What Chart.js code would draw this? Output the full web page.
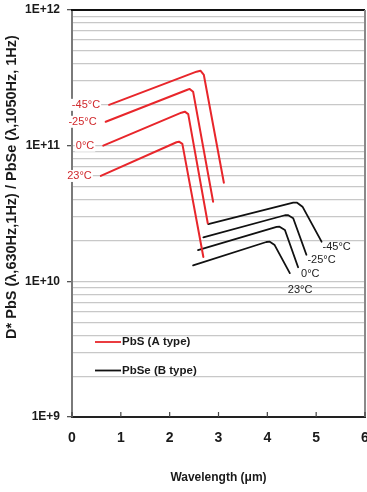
<!DOCTYPE html>
<html>
<head>
<meta charset="utf-8">
<script src="https://cdn.jsdelivr.net/npm/chart.js@4.4.0/dist/chart.umd.min.js"></script>
<style>
    html, body { margin: 0; padding: 0; background: #fff; }
    #wrap { width: 367px; height: 492px; }
</style>
</head>
<body>
<div id="wrap"><canvas id="myChart" width="367" height="492"></canvas></div>
<script>
// Temperatures, same order for both detector types
var temps = ['-45°C', '-25°C', '0°C', '23°C'];

// PbS (A type) curves, points are [wavelength (um), D*]
var pbsM45 = [[0.76, 2.0e11], [2.55, 3.51e11], [2.63, 3.57e11], [2.70, 3.32e11], [3.11, 5.33e10]];
var pbsM25 = [[0.69, 1.50e11], [2.35, 2.57e11], [2.41, 2.62e11], [2.48, 2.50e11], [2.89, 3.86e10]];
var pbs0 = [[0.64, 1.0e11], [2.24, 1.75e11], [2.31, 1.78e11], [2.38, 1.71e11], [2.78, 2.68e10]];
var pbs23 = [[0.59, 5.98e10], [2.14, 1.06e11], [2.19, 1.07e11], [2.26, 1.03e11], [2.69, 1.51e10]];

// PbSe (B type) curves
var pbseM45 = [[2.79, 2.64e10], [4.53, 3.80e10], [4.61, 3.80e10], [4.72, 3.55e10], [5.11, 1.96e10]];
var pbseM25 = [[2.69, 2.11e10], [4.36, 3.07e10], [4.42, 3.08e10], [4.53, 2.92e10], [4.80, 1.57e10]];
var pbse0 = [[2.58, 1.70e10], [4.19, 2.52e10], [4.25, 2.53e10], [4.36, 2.39e10], [4.63, 1.27e10]];
var pbse23 = [[2.48, 1.31e10], [3.98, 1.95e10], [4.05, 1.96e10], [4.15, 1.85e10], [4.46, 1.15e10]];

var pbsCurves = [pbsM45, pbsM25, pbs0, pbs23];
var pbseCurves = [pbseM45, pbseM25, pbse0, pbse23];

// Legend entries
var seriesNames = ['PbS (A type)', 'PbSe (B type)'];
var seriesColors = ['#e8262b', '#111111'];

// y axis decades (exponents)
var yExpMin = 9;
var yExpMax = 12;

function toPoints(arr) {
    return arr.map(function (p) { return { x: p[0], y: p[1] }; });
}

var datasets = [];
pbsCurves.forEach(function (c, i) {
    datasets.push({
        label: seriesNames[0] + ' ' + temps[i],
        data: toPoints(c),
        borderColor: seriesColors[0],
        borderWidth: 2,
        group: 0,
        temp: temps[i]
    });
});
pbseCurves.forEach(function (c, i) {
    datasets.push({
        label: seriesNames[1] + ' ' + temps[i],
        data: toPoints(c),
        borderColor: seriesColors[1],
        borderWidth: 1.8,
        group: 1,
        temp: temps[i]
    });
});

// Temperature labels next to each curve
var curveLabels = {
    id: 'curveLabels',
    afterDatasetsDraw: function (chart) {
        var ctx = chart.ctx;
        var blackOffsets = [[1, 5], [1, 5], [3, 7], [-2, 17]];
        ctx.save();
        ctx.font = '11px "Liberation Sans Narrow", "Liberation Sans", Arial, sans-serif';
        ctx.textBaseline = 'middle';
        chart.data.datasets.forEach(function (ds, i) {
            var meta = chart.getDatasetMeta(i);
            var pts = meta.data;
            if (ds.group === 0) {
                var p = pts[0];
                var w = ctx.measureText(ds.temp).width;
                var tx = p.x - 9;
                ctx.fillStyle = '#fff';
                ctx.fillRect(tx - w - 1, p.y - 6, w + 2, 12);
                ctx.fillStyle = '#d0282c';
                ctx.textAlign = 'right';
                ctx.fillText(ds.temp, tx, p.y);
            } else {
                var q = pts[pts.length - 1];
                var k = i - 4;
                ctx.fillStyle = '#222';
                ctx.textAlign = 'left';
                ctx.fillText(ds.temp, q.x + blackOffsets[k][0], q.y + blackOffsets[k][1]);
            }
        });
        ctx.restore();
    }
};

// Frame, inner ticks, y title and legend
var decorations = {
    id: 'decorations',
    afterDraw: function (chart) {
        var ctx = chart.ctx;
        var a = chart.chartArea;
        var xs = chart.scales.x;
        ctx.save();
        // top and right frame
        ctx.lineWidth = 2;
        ctx.strokeStyle = '#111';
        ctx.beginPath();
        ctx.moveTo(a.left - 1, a.top);
        ctx.lineTo(a.right, a.top);
        ctx.stroke();
        ctx.strokeStyle = '#8a8a8a';
        ctx.beginPath();
        ctx.moveTo(a.right, a.top);
        ctx.lineTo(a.right, a.bottom);
        ctx.stroke();
        // inner tick marks on x axis
        ctx.strokeStyle = '#444';
        ctx.lineWidth = 1.2;
        xs.ticks.forEach(function (t) {
            var px = xs.getPixelForValue(t.value);
            ctx.beginPath();
            ctx.moveTo(px, a.bottom);
            ctx.lineTo(px, a.bottom - 5);
            ctx.stroke();
        });
        // y axis title
        ctx.translate(12, 187);
        ctx.rotate(-Math.PI / 2);
        ctx.font = 'bold 14.5px "Liberation Sans", Arial, sans-serif';
        ctx.fillStyle = '#1a1a1a';
        ctx.textAlign = 'center';
        ctx.textBaseline = 'middle';
        ctx.fillText('D* PbS (\u03bb,630Hz,1Hz) / PbSe (\u03bb,1050Hz, 1Hz)', 0, 0);
        ctx.restore();

        // legend
        ctx.save();
        ctx.font = 'bold 11.5px "Liberation Sans", Arial, sans-serif';
        ctx.textBaseline = 'middle';
        ctx.textAlign = 'left';
        seriesNames.forEach(function (name, i) {
            var ly = a.top + 332 + i * 28.5;
            var lx = a.left + 23;
            ctx.strokeStyle = seriesColors[i];
            ctx.lineWidth = 1.8;
            ctx.beginPath();
            ctx.moveTo(lx, ly);
            ctx.lineTo(lx + 26, ly);
            ctx.stroke();
            ctx.fillStyle = '#1a1a1a';
            ctx.fillText(name, lx + 27, ly);
        });
        ctx.restore();
    }
};

var ctx = document.getElementById('myChart').getContext('2d');
var chart = new Chart(ctx, {
    type: 'scatter',
    data: { datasets: datasets },
    options: {
        responsive: false,
        animation: false,
        devicePixelRatio: 1,
        showLine: true,
        layout: { padding: 0 },
        elements: {
            point: { radius: 0, hoverRadius: 0 },
            line: { tension: 0, borderCapStyle: 'round', borderJoinStyle: 'round' }
        },
        plugins: {
            legend: { display: false },
            tooltip: { enabled: false }
        },
        scales: {
            x: {
                type: 'linear',
                min: 0,
                max: 6,
                ticks: {
                    stepSize: 1,
                    color: '#1a1a1a',
                    padding: 13,
                    font: { family: '"Liberation Sans", Arial, sans-serif', size: 14, weight: 'bold' }
                },
                grid: { display: false, drawTicks: false },
                border: { display: true, color: '#222', width: 2 },
                title: {
                    display: true,
                    text: 'Wavelength (\u03bcm)',
                    color: '#1a1a1a',
                    font: { family: '"Liberation Sans", Arial, sans-serif', size: 12, weight: 'bold' },
                    padding: { top: 0, bottom: 7 }
                },
                afterFit: function (s) {
                    s.height = 75;
                    s.paddingRight = 2;
                }
            },
            y: {
                type: 'logarithmic',
                min: Math.pow(10, yExpMin),
                max: Math.pow(10, yExpMax),
                afterBuildTicks: function (s) {
                    var t = [];
                    for (var e = yExpMin; e < yExpMax; e++) {
                        for (var k = 1; k < 10; k++) {
                            t.push({ value: k * Math.pow(10, e), major: k === 1 });
                        }
                    }
                    t.push({ value: Math.pow(10, yExpMax), major: true });
                    s.ticks = t;
                },
                ticks: {
                    autoSkip: false,
                    color: '#1a1a1a',
                    padding: 7,
                    font: { family: '"Liberation Sans", Arial, sans-serif', size: 12, weight: 'bold' },
                    callback: function (v) {
                        var e = Math.round(Math.log10(v));
                        if (Math.abs(v - Math.pow(10, e)) < 1e-6 * v) return '1E+' + e;
                        return '';
                    }
                },
                grid: {
                    color: '#c8c8c8',
                    lineWidth: 1.3,
                    tickLength: 5,
                    tickColor: function (c) {
                        return c.tick && c.tick.major ? '#555' : 'rgba(0,0,0,0)';
                    }
                },
                border: { display: true, color: '#7a7a7a', width: 2 },
                afterFit: function (s) {
                    s.width = 72;
                    s.paddingTop = 10;
                }
            }
        }
    },
    plugins: [curveLabels, decorations]
});
</script>
</body>
</html>
